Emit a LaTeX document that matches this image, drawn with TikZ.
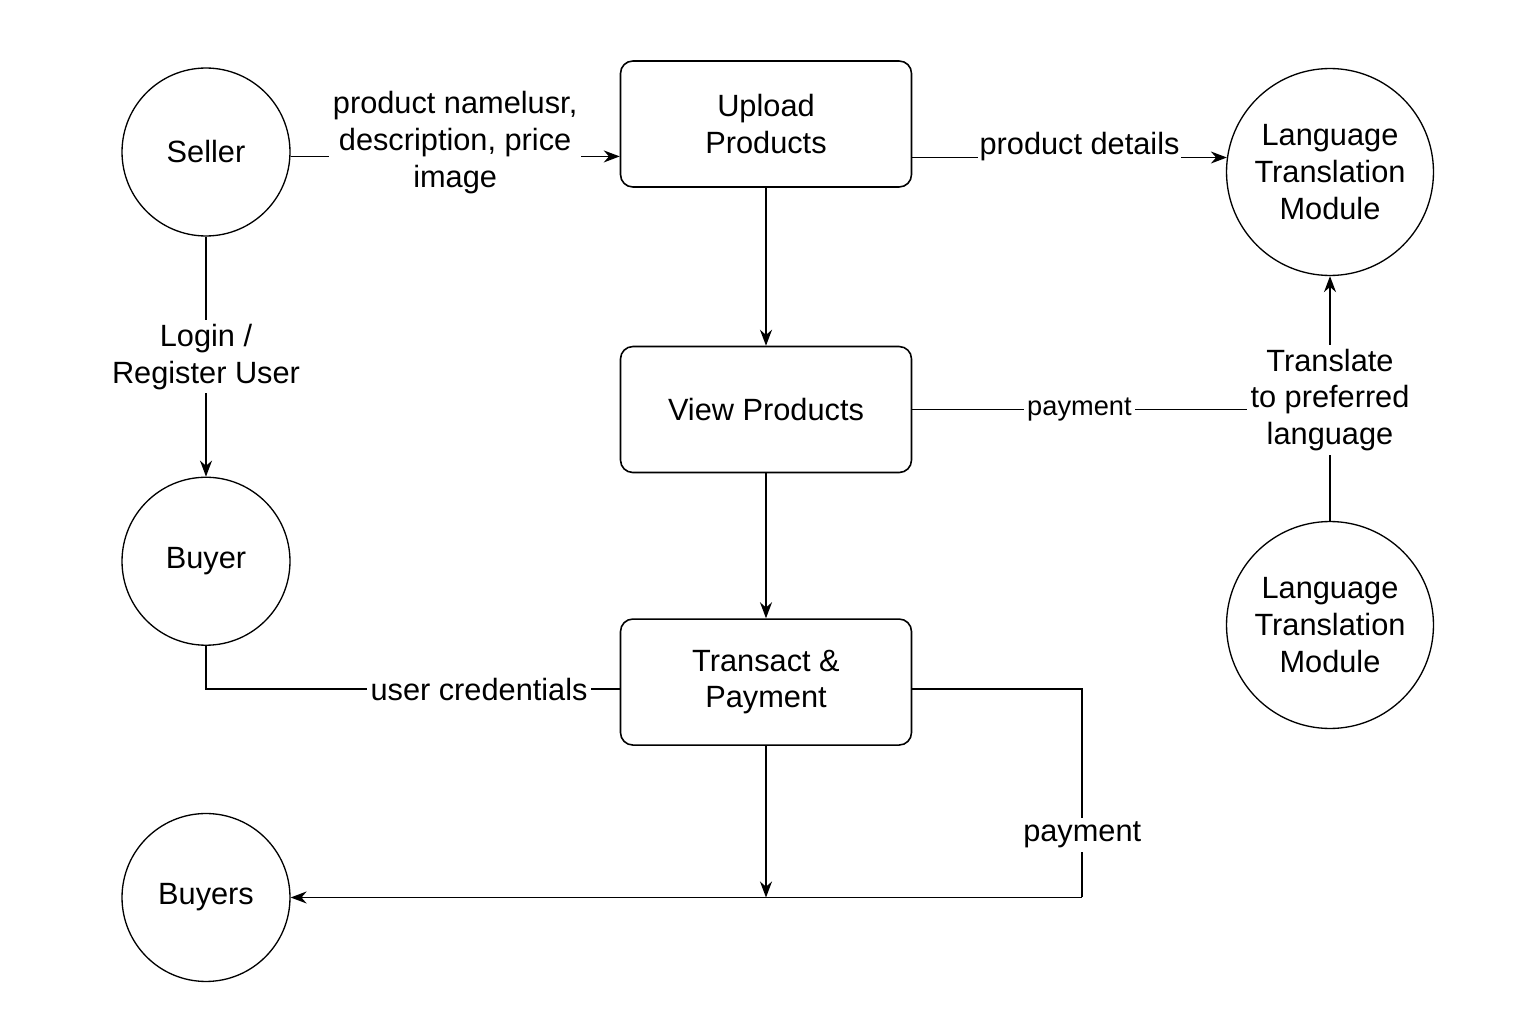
\documentclass[tikz,border=0pt]{standalone}
\usepackage{fontspec}
\setmainfont{Liberation Sans}
\usepackage{tikz}
\usetikzlibrary{positioning,arrows.meta}
\newcommand{\mpbig}{\fontsize{17.5}{21}\selectfont}
\newcommand{\mpsmall}{\fontsize{15.5}{19}\selectfont}
\tikzset{
  mp-proc/.style={draw,rounded corners=7pt,minimum width=5.82cm,minimum height=2.52cm,
    align=center,font=\mpbig,line width=0.9pt},
  mp-ent/.style={draw,circle,minimum size=3.36cm,align=center,font=\mpbig,line width=0.75pt},
  mp-mod/.style={draw,circle,minimum size=4.14cm,inner sep=1pt,align=center,font=\mpbig,line width=0.75pt},
  mp-lbl/.style={fill=white,align=center,font=\mpbig,inner sep=2pt},
  mp-lbls/.style={fill=white,align=center,font=\mpsmall,inner sep=2pt},
  mp-arrow/.style={-{Stealth[length=3.2mm,width=2.4mm]},line width=0.9pt},
  mp-line/.style={line width=0.9pt},
}
\begin{document}
\begin{tikzpicture}[x=0.02cm,y=-0.02cm]
  \useasboundingbox (0,0) rectangle (1536,1024);

  % processes
  \node[mp-proc] (upload) at (766,124) {Upload\\Products};
  \node[mp-proc,below=31.6mm of upload] (view) {View Products};
  \node[mp-proc,below=29mm of view] (transact) {Transact \&\\Payment};

  % entities
  \node[mp-ent] (seller) at (206,152) {Seller};
  \node[mp-ent,below=48mm of seller] (buyer) {Buyer};
  \node[mp-ent,below=33.4mm of buyer] (buyers) {Buyers};

  % translation modules
  \node[mp-mod] (ltm1) at (1330,172) {Language\\Translation\\Module};
  \node[mp-mod] (ltm2) at (1330,625) {Language\\Translation\\Module};
  \node[align=center,font=\mpbig,inner sep=2pt] (xlate) at (1330,400) {Translate\\to preferred\\language};

  % edges
  \draw[mp-arrow] (seller.-3) -- node[mp-lbl,yshift=0.28cm]{product namelusr,\\description, price\\image} (seller.-3 -| upload.west);
  \draw[mp-arrow] (ltm1.172 -| upload.east) -- node[mp-lbl,inner sep=1pt,yshift=0.22cm,xshift=0.2cm]{product details} (ltm1.172);
  \draw[mp-arrow] (upload) -- (view);
  \draw[mp-arrow] (view) -- (transact);
  \draw[mp-arrow] (seller) -- node[mp-lbl]{Login /\\Register User} (buyer);
  \draw[mp-line] (buyer.south) |- node[mp-lbl,pos=0.83]{user credentials} ([yshift=-0.14cm]transact.west);
  \draw[mp-line] (view.east) -- node[mp-lbls]{payment} (view.east -| xlate.west);
  \draw[mp-arrow] (xlate) -- (ltm1);
  \draw[mp-line] (ltm2) -- (xlate);

  \coordinate (payturn) at ([xshift=3.4cm]transact.east |- buyers);
  \draw[mp-line] ([yshift=-0.14cm]transact.east) -| node[mp-lbl,pos=0.85]{payment} (payturn);
  \draw[mp-arrow] (payturn) -- (buyers.east);
  \draw[mp-arrow] (transact) -- (transact |- buyers);
\end{tikzpicture}
\end{document}
